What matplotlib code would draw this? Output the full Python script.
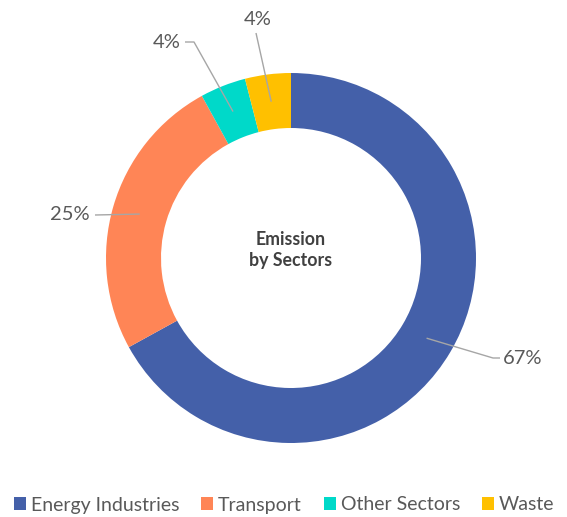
import matplotlib.pyplot as plt
import numpy as np

plt.rcParams['font.family'] = ['Lato', 'DejaVu Sans']

sectors = ["Energy Industries", "Transport", "Other Sectors", "Waste"]
shares = [67, 25, 4, 4]
colors = ["#4460A9", "#FF8556", "#00D9C9", "#FFC000"]
labels = ["67%", "25%", "4%", "4%"]

# elbow / text offsets for the leader lines (pixel units of the axes)
elbows = [(202, -100), (-196, 43), (-97, 216), (-35, 225)]
ends = [(209, -100), (-196, 43), (-106, 216), (-35, 225)]
texts = [(212, -100, "left", "center"), (-201, 43, "right", "center"),
         (-110, 216, "right", "center"), (-33, 230, "center", "bottom")]

W, H = 567, 517
fig = plt.figure(figsize=(W / 100, H / 100), dpi=100)
cx, cy = 291, H - 258
ax = fig.add_axes([(cx - 200) / W, (cy - 200) / H, 400 / W, 400 / H])

R, width = 185, 55
wedges, _ = ax.pie(shares, colors=colors, radius=R, startangle=90, counterclock=False,
                   wedgeprops=dict(width=width, linewidth=0))
ax.set_xlim(-200, 200)
ax.set_ylim(-200, 200)
ax.set_aspect("equal")
ax.axis("off")

# leader lines from the middle of each ring segment
start = 90.0
total = sum(shares)
for i, v in enumerate(shares):
    span = 360.0 * v / total
    mid = np.deg2rad(start - span / 2)
    start -= span
    r = R - width / 2
    ax_, ay_ = r * np.cos(mid), r * np.sin(mid)
    xs = [ax_, elbows[i][0], ends[i][0]]
    ys = [ay_, elbows[i][1], ends[i][1]]
    ax.plot(xs, ys, color="#A6A6A6", lw=1, solid_capstyle="butt", clip_on=False)
    tx, ty, ha, va = texts[i]
    ax.text(tx, ty, labels[i], ha=ha, va=va, fontsize=14.5, color="#595959", clip_on=False)

ax.text(0, 8, "Emission\nby Sectors", ha="center", va="center", fontsize=12.75,
        fontweight="bold", color="#404040", linespacing=1.3)

fig.legend(wedges, sectors, loc="center left", bbox_to_anchor=(14 / W, 12 / H), ncol=4,
           frameon=False, fontsize=14, handlelength=0.62, handleheight=0.62,
           handletextpad=0.25, columnspacing=1.12, borderpad=0, borderaxespad=0,
           labelcolor="#595959")

fig.savefig("out.png", dpi=100)
